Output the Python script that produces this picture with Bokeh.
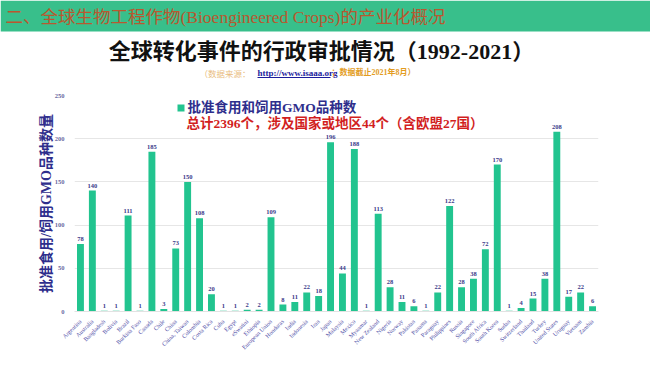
import math
from bokeh.plotting import figure
from bokeh.layouts import column
from bokeh.models import (ColumnDataSource, Range1d, FactorRange, LabelSet, Label,
                          BoxAnnotation, FixedTicker)
from bokeh.embed import file_html
from bokeh.resources import INLINE

countries = ["Argentina", "Australia", "Bangladesh", "Bolivia", "Brazil", "Burkina Faso",
             "Canada", "Chile", "China", "China, Taiwan", "Colombia", "Costa Rica", "Cuba",
             "Egypt", "eSwatini", "Ethiopia", "European Union", "Honduras", "India",
             "Indonesia", "Iran", "Japan", "Malaysia", "Mexico", "Myanmar", "New Zealand",
             "Nigeria", "Norway", "Pakistan", "Panama", "Paraguay", "Philippines", "Russia",
             "Singapore", "South Africa", "South Korea", "Sudan", "Switzerland", "Thailand",
             "Turkey", "United States", "Uruguay", "Vietnam", "Zambia"]
approvals = [78, 140, 1, 1, 111, 1, 185, 3, 73, 150, 108, 20, 1, 1, 2, 2, 109, 8, 11,
             22, 18, 196, 44, 188, 1, 113, 28, 11, 6, 1, 22, 122, 28, 38, 72, 170, 1, 4,
             15, 38, 208, 17, 22, 6]
y_ticks = [0, 50, 100, 150, 200, 250]

banner_text = "二、全球生物工程作物(Bioengineered Crops)的产业化概况"
title_text = "全球转化事件的行政审批情况（1992-2021）"
src_part1 = "（数据来源："
src_url = "http://www.isaaa.org"
src_part3 = "；数据截止2021年8月）"
legend_line1 = "批准食用和饲用GMO品种数"
legend_line2 = "总计2396个，涉及国家或地区44个（含欧盟27国）"
y_label = "批准食用/饲用GMO品种数量"

SERIF_CJK = "'Liberation Serif', 'Noto Sans CJK SC'"
CJK = "'Noto Sans CJK SC'"
NAVY = "#2e2e8c"
BAR = "#22c48f"

PAGE_W = 650
TOP_H = 86
BOT_H = 365 - TOP_H
FL, FT, FR, FB = 74, 95, 598, 311  # chart frame edges in page coordinates

# ---------------- header figure ----------------
top = figure(width=PAGE_W, height=TOP_H, x_range=Range1d(0, PAGE_W), y_range=Range1d(TOP_H, 0),
             output_backend="svg", toolbar_location=None, title=None,
             x_axis_type=None, y_axis_type=None,
             min_border_left=0, min_border_right=0, min_border_top=0, min_border_bottom=0)
top.frame_align = False
top.outline_line_color = None
top.grid.visible = False
top.quad(left=[0], right=[PAGE_W + 10], top=[0], bottom=[31], color="#38bf8b", line_color=None)
top.add_layout(Label(x=5, y=16, text=banner_text, text_font=SERIF_CJK, text_font_size="17.5px",
                     text_color="#b9582f", text_baseline="middle", text_align="left"))
top.add_layout(Label(x=321, y=51, text=title_text, text_font=SERIF_CJK, text_font_size="22px",
                     text_font_style="bold", text_color="#111111",
                     text_baseline="middle", text_align="center"))
top.add_layout(Label(x=250, y=72, text=src_part1, text_font=CJK, text_font_size="8.5px",
                     text_color="#e9bd80", text_baseline="middle", text_align="right"))
top.add_layout(Label(x=257, y=72, text=src_url, text_font="Liberation Serif",
                     text_font_size="9px", text_font_style="bold", text_color="#1c1c9c",
                     text_baseline="middle", text_align="left"))
top.segment(x0=[257], x1=[330], y0=[77], y1=[77], line_color="#1c1c9c", line_width=1)
top.add_layout(Label(x=331, y=72, text=src_part3, text_font=SERIF_CJK, text_font_size="8px",
                     text_font_style="bold", text_color="#e39d1f",
                     text_baseline="middle", text_align="left"))

# ---------------- chart figure ----------------
src = ColumnDataSource(dict(country=countries, value=approvals,
                            label=[str(v) for v in approvals]))

p = figure(width=PAGE_W, height=BOT_H, x_range=FactorRange(*countries), y_range=Range1d(0, 250),
           output_backend="svg", toolbar_location=None, title=None,
           min_border_left=FL, min_border_right=PAGE_W - FR,
           min_border_top=FT - TOP_H, min_border_bottom=365 - FB)
p.frame_align = False
p.outline_line_color = None

p.vbar(x="country", top="value", width=0.58, source=src, color=BAR, line_color=None)

p.add_layout(LabelSet(x="country", y="value", text="label", source=src, y_offset=3,
                      text_align="center", text_baseline="bottom",
                      text_font=SERIF_CJK, text_font_size="6.5px", text_font_style="bold",
                      text_color="#3a3a8a"))

p.xgrid.grid_line_color = None
p.ygrid.grid_line_color = "#e6e6e6"
p.yaxis.ticker = FixedTicker(ticks=y_ticks)
p.yaxis.axis_line_color = None
p.yaxis.major_tick_line_color = None
p.yaxis.minor_tick_line_color = None
p.yaxis.major_label_text_font = "Liberation Serif"
p.yaxis.major_label_text_font_size = "6.5px"
p.yaxis.major_label_text_font_style = "bold"
p.yaxis.major_label_text_color = "#6a6aa0"
p.yaxis.major_label_standoff = 4
p.yaxis.axis_label = y_label
p.yaxis.axis_label_text_font = SERIF_CJK
p.yaxis.axis_label_text_font_size = "14px"
p.yaxis.axis_label_text_font_style = "bold"
p.yaxis.axis_label_text_color = NAVY
p.yaxis.axis_label_standoff = -2

p.xaxis.axis_line_color = "#e2e2e2"
p.xaxis.major_tick_line_color = None
p.xaxis.minor_tick_line_color = None
p.xaxis.major_label_orientation = math.pi / 4
p.xaxis.major_label_text_font = "Liberation Serif"
p.xaxis.major_label_text_font_size = "6px"
p.xaxis.major_label_text_color = "#5050a8"
p.xaxis.major_label_standoff = 3


def sx(x):
    return x - FL


def sy(y):
    return FB - y


# legend
p.add_layout(BoxAnnotation(left=sx(177), right=sx(184), top=sy(104), bottom=sy(111),
                           left_units="screen", right_units="screen",
                           top_units="screen", bottom_units="screen",
                           fill_color=BAR, fill_alpha=1.0, line_color=None))
p.add_layout(Label(x=sx(187), y=sy(107), x_units="screen", y_units="screen",
                   text=legend_line1, text_font=SERIF_CJK, text_font_size="13.5px",
                   text_font_style="bold", text_color=NAVY,
                   text_baseline="middle", text_align="left"))
p.add_layout(Label(x=sx(186), y=sy(123), x_units="screen", y_units="screen",
                   text=legend_line2, text_font=SERIF_CJK, text_font_size="13.5px",
                   text_font_style="bold", text_color="#d21f1f",
                   text_baseline="middle", text_align="left"))

layout = column(top, p, spacing=0)
open("out.html", "w").write(file_html(layout, INLINE))
